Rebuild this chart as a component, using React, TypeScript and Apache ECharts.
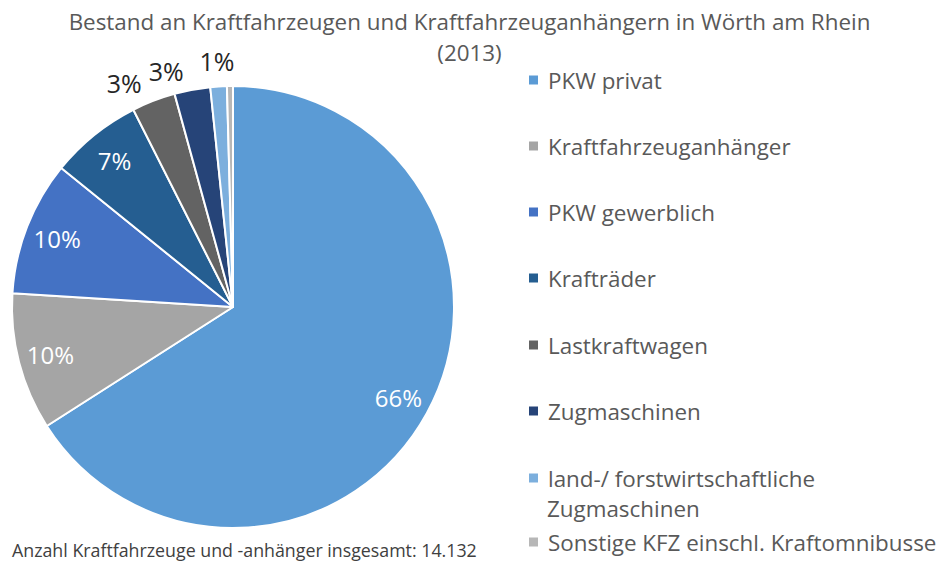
import React, { useEffect, useRef } from "react";
import * as echarts from "echarts";

const categories = [
  "PKW privat",
  "Kraftfahrzeuganhänger",
  "PKW gewerblich",
  "Krafträder",
  "Lastkraftwagen",
  "Zugmaschinen",
  "land-/ forstwirtschaftliche Zugmaschinen",
  "Sonstige KFZ einschl. Kraftomnibusse",
];
const counts = [9320, 1420, 1390, 950, 450, 370, 170, 62];
const colors = ["#5B9BD5", "#A5A5A5", "#4472C4", "#255E91", "#636363", "#264478", "#7CAFDD", "#B7B7B7"];
// label placement: "in" = white label inside slice, "out" = outside (side-aligned),
// "rim" = outside, centred just beyond the rim, "none" = hidden
const labelPlace = ["in", "in", "in", "in", "out", "out", "rim", "none"];
const legendCenters = [80, 146, 212, 278, 345, 411, 478, 542];
const titleText = "Bestand an Kraftfahrzeugen und Kraftfahrzeuganhängern in Wörth am Rhein\n(2013)";

const FONT = "'Open Sans', 'Noto Sans', sans-serif";

export default function App() {
  const ref = useRef<HTMLDivElement>(null);
  useEffect(() => {
    document.body.style.margin = "0";
    if (!ref.current) return;
    const chart = echarts.init(ref.current, null, { renderer: "svg" });
    const total = counts.reduce((a, b) => a + b, 0);
    const pct = (v: number) => Math.round((v / total) * 100) + "%";
    const cx = 233, cy = 307, R = 221;

    const base = {
      type: "pie",
      center: [cx, cy],
      startAngle: 90,
      clockwise: true,
      avoidLabelOverlap: false,
      labelLayout: { hideOverlap: false },
      emphasis: { disabled: true },
    };
    const darkLabel = {
      formatter: (p: any) => pct(p.value),
      color: "#262626",
      fontFamily: FONT,
      fontSize: 25,
    };
    const transparent = { color: "rgba(0,0,0,0)", borderWidth: 0 };

    const mainData = categories.map((n, i) => ({
      name: n,
      value: counts[i],
      itemStyle: { color: colors[i] },
    }));
    const overlayData = (test: (i: number) => boolean) =>
      categories.map((n, i) => ({
        name: n,
        value: counts[i],
        label: { show: test(i) },
      }));

    const legends = categories.map((n, i) => ({
      data: [n],
      orient: "vertical",
      left: 527,
      top: legendCenters[i] - 11,
      padding: 0,
      itemWidth: 11,
      itemHeight: 11,
      icon: "rect",
      selectedMode: false,
      formatter: (name: string) => (name.startsWith("land-/") ? "land-/ forstwirtschaftliche" : name),
      textStyle: { fontFamily: FONT, fontSize: 22.4, color: "#595959", lineHeight: 22, padding: [0, 0, 0, 4] },
    }));

    const option: any = {
      animation: false,
      backgroundColor: "#ffffff",
      title: {
        text: titleText,
        left: "center",
        top: 6,
        padding: 0,
        textStyle: { fontFamily: FONT, fontSize: 22.4, fontWeight: "normal", color: "#595959", lineHeight: 31 },
      },
      legend: legends,
      series: [
        {
          ...base,
          radius: R,
          label: { show: false },
          labelLine: { show: false },
          itemStyle: { borderColor: "#ffffff", borderWidth: 2 },
          data: mainData,
        },
        {
          ...base,
          radius: [R * 0.68, R],
          silent: true,
          itemStyle: transparent,
          label: {
            position: "inside",
            formatter: (p: any) => pct(p.value),
            color: "#ffffff",
            fontFamily: FONT,
            fontSize: 24,
          },
          labelLine: { show: false },
          data: overlayData((i) => labelPlace[i] === "in"),
        },
        {
          ...base,
          radius: R,
          silent: true,
          itemStyle: transparent,
          label: { ...darkLabel, position: "outside" },
          labelLine: { show: false, length: 19, length2: 0 },
          data: overlayData((i) => labelPlace[i] === "out" && i % 2 === 0),
        },
        {
          ...base,
          radius: R,
          silent: true,
          itemStyle: transparent,
          label: { ...darkLabel, position: "outside" },
          labelLine: { show: false, length: 19, length2: 0 },
          data: overlayData((i) => labelPlace[i] === "out" && i % 2 === 1),
        },
        {
          ...base,
          radius: [R, R + 46],
          silent: true,
          itemStyle: transparent,
          label: { ...darkLabel, position: "inside" },
          labelLine: { show: false },
          data: overlayData((i) => labelPlace[i] === "rim"),
        },
      ],
      graphic: [
        {
          type: "text",
          left: 547,
          top: legendCenters[6] + 19,
          style: { text: "Zugmaschinen", fontFamily: FONT, fontSize: 22.4, fill: "#595959" },
        },
        {
          type: "text",
          left: 12,
          top: 541,
          style: {
            text: "Anzahl Kraftfahrzeuge und -anhänger insgesamt: " + total.toLocaleString("de-DE"),
            fontFamily: FONT,
            fontSize: 17.8,
            fill: "#404040",
          },
        },
      ],
    };
    chart.setOption(option);
    return () => chart.dispose();
  }, []);
  return <div ref={ref} style={{ width: 939, height: 568 }} />;
}
